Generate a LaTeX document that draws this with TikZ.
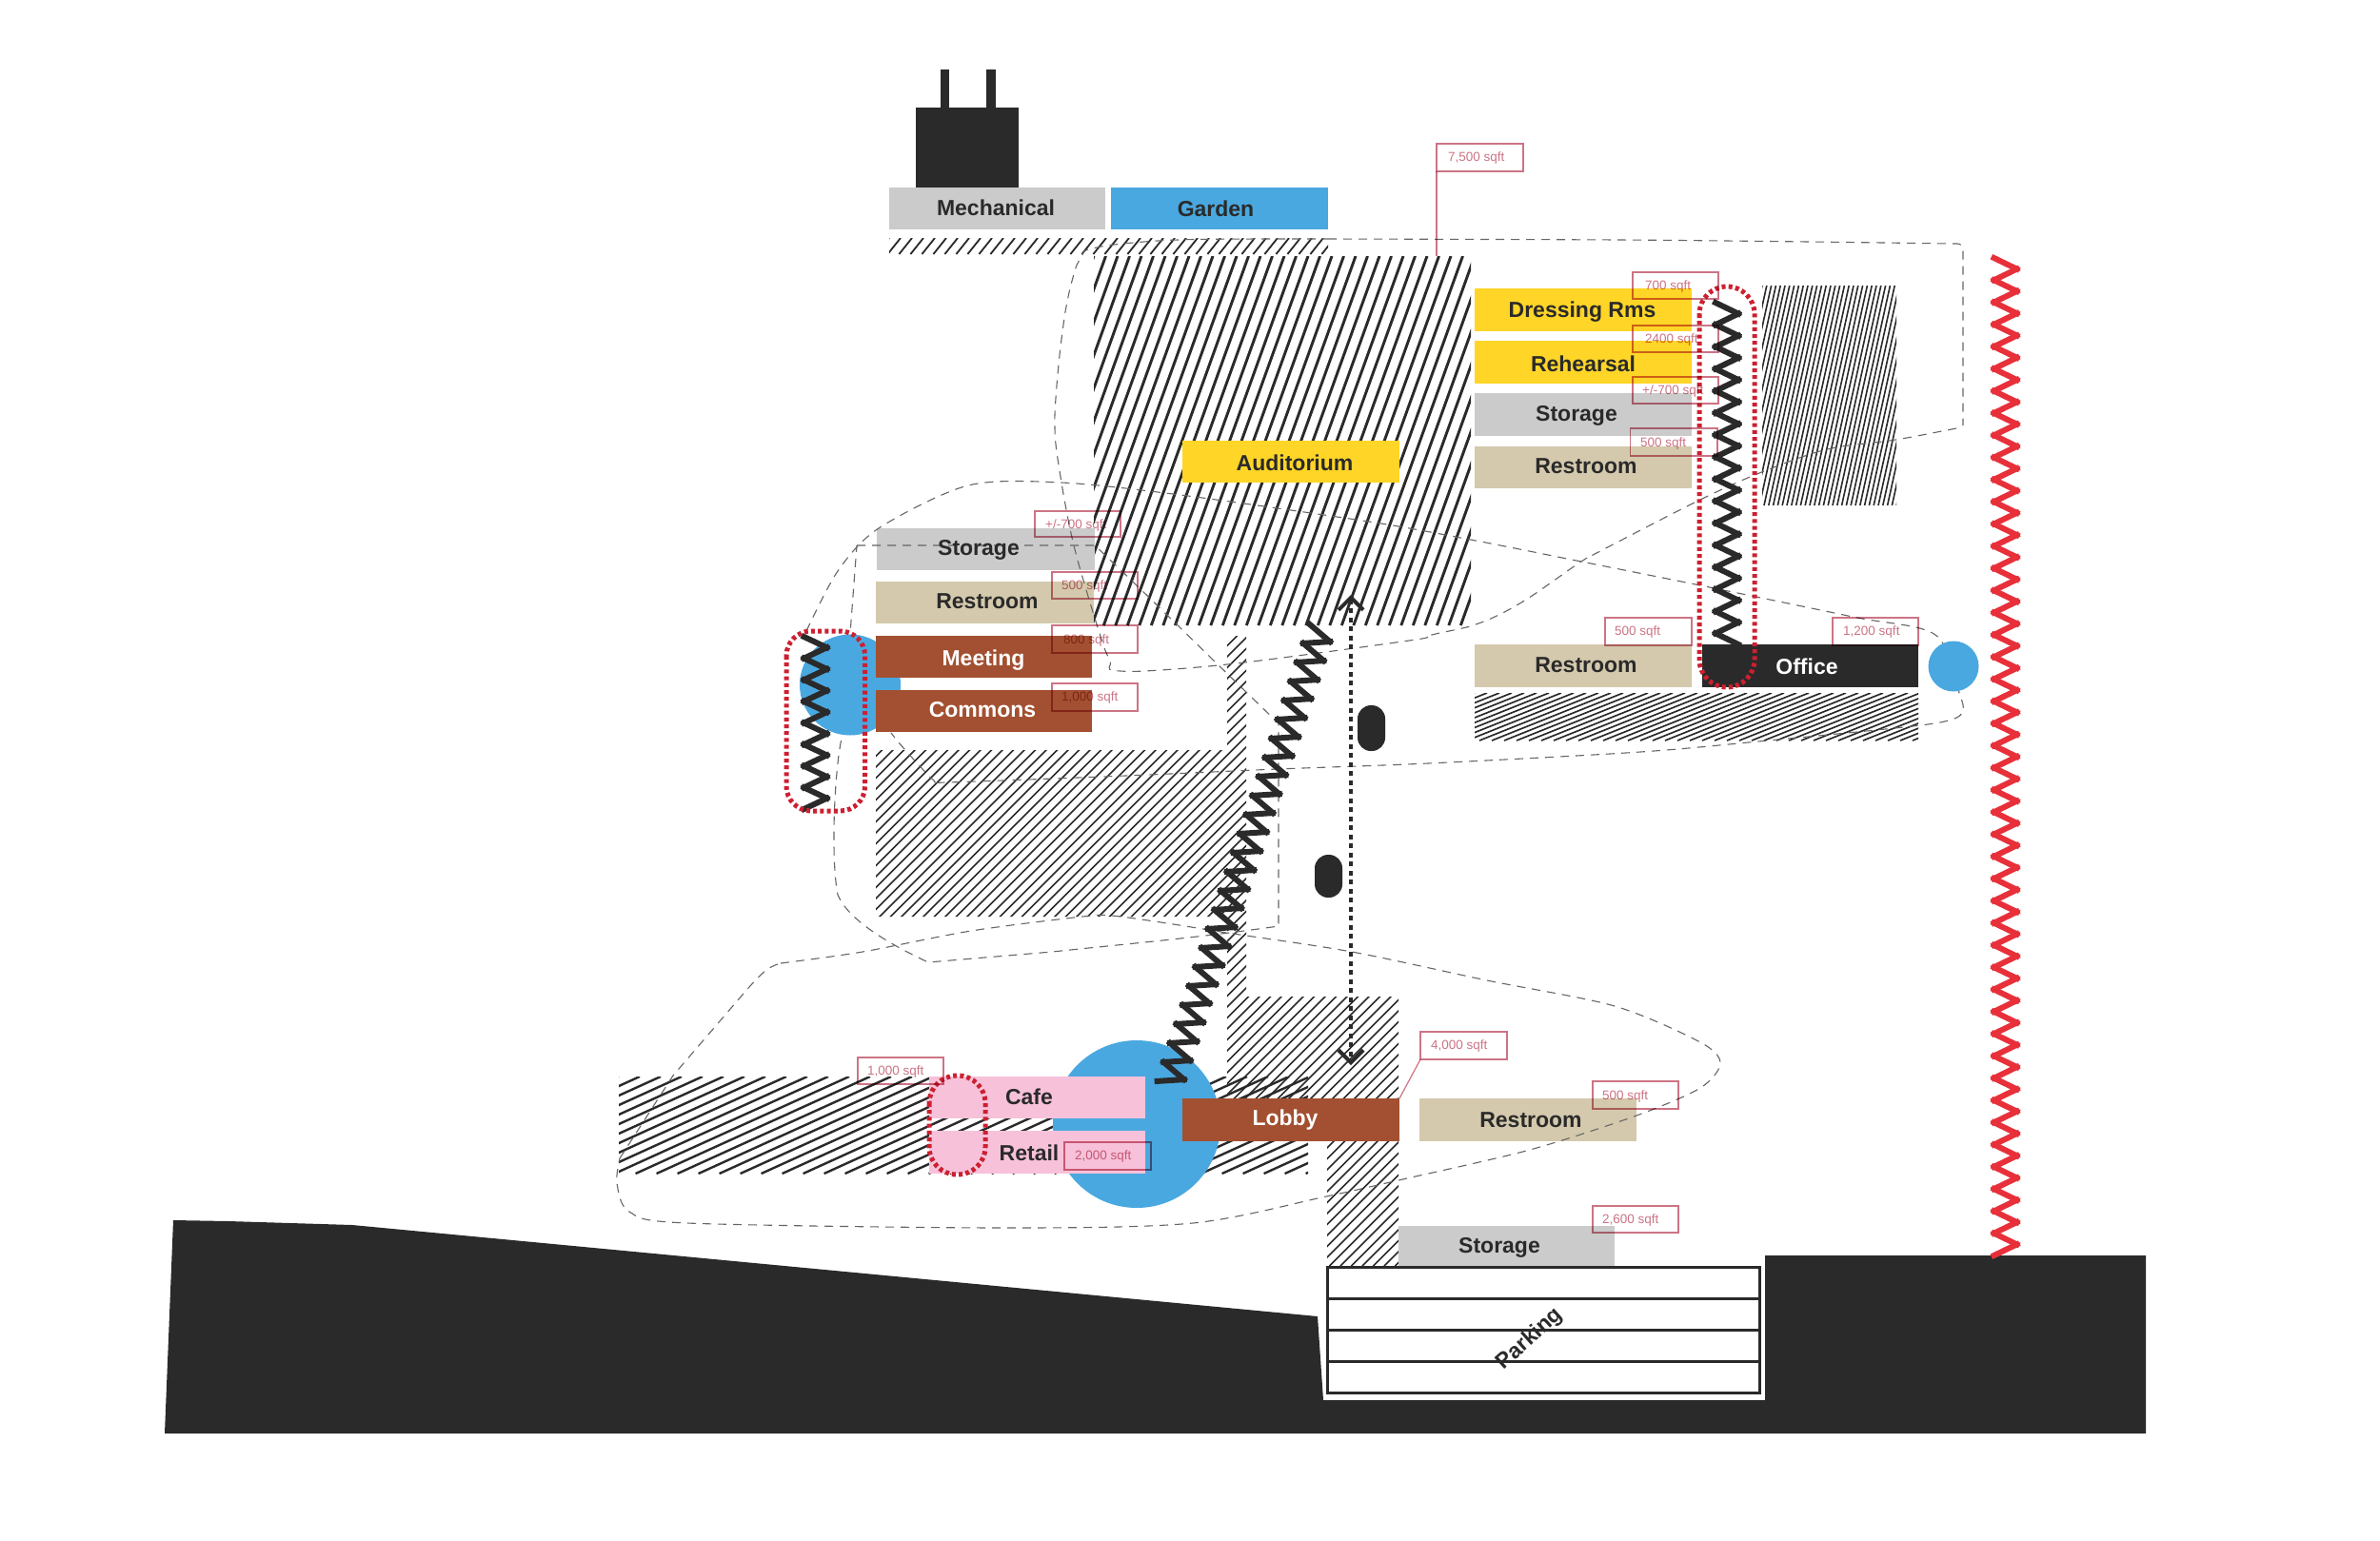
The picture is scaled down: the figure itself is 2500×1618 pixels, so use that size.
\documentclass[tikz,border=0pt]{standalone}
\usepackage{fontspec}
\setmainfont{Liberation Sans}
\usetikzlibrary{arrows.meta}
\definecolor{ink}{HTML}{2A2A2A}
\definecolor{ygold}{HTML}{FFD528}
\definecolor{lgrey}{HTML}{CBCBCB}
\definecolor{ltan}{HTML}{D4C9AD}
\definecolor{brick}{HTML}{A25031}
\definecolor{lpink}{HTML}{F7C1DA}
\definecolor{skyb}{HTML}{4AA8E0}
\definecolor{zred}{HTML}{E8303A}
\definecolor{dotred}{HTML}{CC2030}
\definecolor{sqcol}{HTML}{CC7485}
\definecolor{dashcol}{HTML}{666666}
\tikzset{
  roombox/.style={inner sep=0pt,outer sep=0pt},
  roomtext/.style={inner sep=0pt,font=\fontsize{23}{25}\selectfont\bfseries,text=ink},
  sqbox/.style={draw=sqcol,line width=1.2pt,inner sep=0pt,outer sep=0pt},
  sqtext/.style={inner sep=0pt,anchor=west,text=sqcol,font=\fontsize{13.5}{15}\selectfont},
  dashzone/.style={draw=dashcol,line width=1.1pt,dash pattern=on 9pt off 7pt},
  dotzone/.style={draw=dotred,line width=5pt,dash pattern=on 4pt off 3.2pt},
  inkzig/.style={draw=ink,line width=6pt,line cap=rect},
  redzig/.style={draw=zred,line width=6pt,line cap=rect}
}
% rectangle room node
\newcommand{\roomrect}[6]{%
  \pgfmathsetmacro\rcx{(#2+#4)/2}\pgfmathsetmacro\rcy{(#3+#5)/2}%
  \pgfmathsetmacro\rw{#4-#2}\pgfmathsetmacro\rh{#5-#3}%
  \node[roombox,fill=#6,minimum width=\rw pt,minimum height=\rh pt] (#1) at (\rcx,\rcy) {};}
% sqft box with text
\newcommand{\sqft}[8]{%
  \pgfmathsetmacro\rcx{(#2+#4)/2}\pgfmathsetmacro\rcy{(#3+#5)/2}%
  \pgfmathsetmacro\rw{#4-#2}\pgfmathsetmacro\rh{#5-#3}%
  \node[sqbox,minimum width=\rw pt,minimum height=\rh pt] (#1) at (\rcx,\rcy) {};
  \node[sqtext] (#1t) at (#6,#7) {#8};}
% hatch lines over a bounding area: x1 y1 x2 y2 spacing slope width
\newcommand{\hatchlines}[7]{%
  \pgfmathsetmacro\hh{#4-#2}\pgfmathsetmacro\hs{#6*\hh}%
  \pgfmathtruncatemacro\hn{(#3-#1+\hs)/#5+1}%
  \foreach \i in {0,...,\hn}{%
    \pgfmathsetmacro\xb{#1-\hs+\i*#5}\pgfmathsetmacro\xt{\xb+\hs}%
    \draw[ink,line width=#7pt] (\xb,#4) -- (\xt,#2);
  }}
\newcommand{\hatchbox}[7]{%
  \begin{scope}\clip (#1,#2) rectangle (#3,#4);\hatchlines{#1}{#2}{#3}{#4}{#5}{#6}{#7}\end{scope}}
% zigzag: x0 y0 x1 y1 halfperiods amp style
\newcommand{\stairzig}[7]{%
  \pgfmathsetmacro\dxx{#3-#1}\pgfmathsetmacro\dyy{#4-#2}%
  \pgfmathsetmacro\zlen{veclen(\dxx,\dyy)}%
  \pgfmathsetmacro\nxx{\dyy/\zlen}\pgfmathsetmacro\nyy{-\dxx/\zlen}%
  \foreach \k in {1,...,#5}{%
    \pgfmathsetmacro\sa{1-2*mod(\k,2)}%
    \pgfmathsetmacro\ax{#1+(\k-1)/#5*\dxx+\sa*#6*\nxx}%
    \pgfmathsetmacro\ay{#2+(\k-1)/#5*\dyy+\sa*#6*\nyy}%
    \pgfmathsetmacro\bx{#1+\k/#5*\dxx-\sa*#6*\nxx}%
    \pgfmathsetmacro\by{#2+\k/#5*\dyy-\sa*#6*\nyy}%
    \draw[#7] (\ax,\ay) -- (\bx,\by);
  }}
\begin{document}
\begin{tikzpicture}[x=1pt,y=-1pt]
\useasboundingbox[fill=white] (0,0) rectangle (2500,1618);
% ground
\fill[ink] (182,1282) -- (240,1283) -- (370,1287) -- (1384,1383) -- (1390,1471) -- (1854,1471) -- (1854,1319) -- (2254,1319) -- (2254,1506) -- (173,1506) -- cycle;
% plug
\fill[ink] (962,113) rectangle (1070,198);
\fill[ink] (988,73) rectangle (997,114);
\fill[ink] (1036,73) rectangle (1046,114);
% hatches
\hatchbox{934}{250}{1395}{267}{12}{0.8}{1.8}
\hatchbox{1149}{269}{1545}{657}{12.5}{0.36}{2.9}
\hatchbox{1851}{300}{1992}{531}{4.8}{0.22}{1.6}
\hatchbox{1549}{728}{2015}{778}{13}{2.5}{1.7}
\hatchbox{650}{1131}{1374}{1233}{22}{2.2}{2.4}
\begin{scope}
  \clip (920,788) rectangle (1309,963)
        (1289,668) rectangle (1309,1047)
        (1289,1047) rectangle (1469,1154)
        (1394,1199) rectangle (1469,1330);
  \hatchlines{920}{668}{1469}{1330}{11.5}{1}{1.5}
\end{scope}
% light rooms below the dashed zones
\roomrect{rmech}{934}{197}{1161}{241}{lgrey}
\roomrect{rgard}{1167}{197}{1395}{241}{skyb}
\roomrect{raudi}{1242}{463}{1470}{507}{ygold}
\roomrect{rdress}{1549}{303}{1777}{348}{ygold}
\roomrect{rrehe}{1549}{358}{1777}{403}{ygold}
\roomrect{rstorr}{1549}{413}{1777}{458}{lgrey}
\roomrect{rrestr}{1549}{469}{1777}{513}{ltan}
\roomrect{rstorl}{921}{555}{1150}{599}{lgrey}
\roomrect{rrestl}{920}{611}{1149}{655}{ltan}
\roomrect{rrestm}{1549}{677}{1777}{722}{ltan}
\roomrect{rrestb}{1491}{1154}{1719}{1199}{ltan}
\roomrect{rstorb}{1469}{1288}{1696}{1330}{lgrey}
% dashed zones
\draw[dashzone] plot[smooth,tension=0.5] coordinates {(1395,251) (1700,252) (1900,254) (2050,256)}
  [rounded corners=6pt] -- (2062,256) -- (2062,447)
  plot[smooth,tension=0.5] coordinates {(2055,450) (1991,462) (1920,472) (1853,495) (1786,525) (1679,580) (1661,590) (1598,633) (1553,655) (1504,667) (1480,673) (1289,698) (1177,705) (1164,690) (1148,643) (1128,573) (1115,507) (1108,450) (1112,383) (1121,317) (1134,273) (1152,260) (1237,252) (1395,251)};
\draw[dashzone] plot[smooth,tension=0.5] coordinates {(847,663) (880,600) (923,555) (1017,510) (1115,507) (1240,520) (1438,548) (1545,567) (1661,590) (1786,615) (1946,648) (2033,667) (2058,728) (2062,747) (2050,756) (2009,763) (1857,778) (1723,790) (1500,802) (1342,808) (1182,815) (994,822) (981,820) (950,787) (936,770)};
\draw[dashzone] (900,573) -- (1150,573) .. controls (1200,620) and (1260,680) .. (1343,760) -- (1343,973)
  .. controls (1260,985) and (1180,992) .. (1105,1000) -- (975,1011) .. controls (930,990) and (890,965) .. (880,940)
  .. controls (872,900) and (877,800) .. (885,772) -- (900,573);
\draw[dashzone] (651,1217) -- (707,1130) -- (780,1045) .. controls (800,1022) and (806,1016) .. (820,1012)
  plot[smooth,tension=0.5] coordinates {(820,1012) (906,1000) (1020,978) (1137,963) (1168,962) (1226,970) (1289,980) (1420,1000) (1562,1030) (1696,1057) (1786,1095) (1807,1117) (1786,1143) (1719,1172) (1607,1208) (1469,1240) (1393,1257) (1253,1285) (1054,1290) (722,1285) (661,1273) (648,1243) (651,1217)};
% circles
\fill[skyb] (893,719.5) circle[radius=53];
\fill[skyb] (1194,1181) circle[radius=88];
\fill[skyb] (2052,700) circle[radius=26.5];
% parking
\draw[ink,line width=3pt,fill=white] (1394,1331) rectangle (1848,1463);
\coordinate (pa1) at (1394,1364);\coordinate (pb1) at (1848,1364);
\coordinate (pa2) at (1394,1397);\coordinate (pb2) at (1848,1397);
\coordinate (pa3) at (1394,1430);\coordinate (pb3) at (1848,1430);
\draw[ink,line width=3pt] (pa1) -- (pb1) (pa2) -- (pb2) (pa3) -- (pb3);
% rooms over the zones
\roomrect{rmeet}{920}{668}{1147}{712}{brick}
\roomrect{rcomm}{920}{725}{1147}{769}{brick}
\roomrect{rcafe}{976}{1131}{1203}{1175}{lpink}
\roomrect{rreta}{976}{1188}{1203}{1233}{lpink}
\roomrect{rlobb}{1242}{1154}{1470}{1199}{brick}
\roomrect{roffi}{1788}{677}{2015}{722}{ink}
% pills
\fill[ink,rounded corners=14pt] (1426,741) rectangle (1455,789);
\fill[ink,rounded corners=14pt] (1381,898) rectangle (1410,943);
% zigzags
\stairzig{1814}{318}{1814}{677}{31}{12}{inkzig}
\stairzig{856.5}{669}{856.5}{850}{16}{12}{inkzig}
\stairzig{2106.5}{271}{2106.5}{1319}{90}{12}{redzig}
\stairzig{1388}{660}{1228}{1140}{48}{13}{inkzig}
% dotted vertical arrow
\coordinate (arrtop) at (1419,625);
\coordinate (arrbot) at (1419,1119);
\draw[ink,line width=4pt,dash pattern=on 5pt off 4.5pt,{Straight Barb[length=13pt,width=26pt,line width=4pt]}-{Straight Barb[length=13pt,width=26pt,line width=4pt]}] (arrtop) -- (arrbot);
% dotted zones
\draw[dotzone,rounded corners=29pt] (1785,301) rectangle (1843,722);
\draw[dotzone,rounded corners=26pt] (826,663) rectangle (908.6,852);
\draw[dotzone,rounded corners=29pt] (976,1130) rectangle (1035,1234);
% room texts
\node[roomtext] (tmech) at (1046,218) {Mechanical};
\node[roomtext] (tgard) at (1277,219.5) {Garden};
\node[roomtext] (taudi) at (1360,486) {Auditorium};
\node[roomtext] (tdress) at (1662,328) {Dressing Rms};
\node[roomtext] (trehe) at (1663,382) {Rehearsal};
\node[roomtext] (tstorr) at (1656,437) {Storage};
\node[roomtext] (trestr) at (1666,490) {Restroom};
\node[roomtext] (trestm) at (1666,699) {Restroom};
\node[roomtext,text=white] (toffi) at (1898,700) {Office};
\node[roomtext] (tstorl) at (1028,578) {Storage};
\node[roomtext] (trestl) at (1037,632) {Restroom};
\node[roomtext,text=white] (tmeet) at (1033,693.5) {Meeting};
\node[roomtext,text=white] (tcomm) at (1032,746) {Commons};
\node[roomtext] (tcafe) at (1081,1152) {Cafe};
\node[roomtext] (treta) at (1081,1211) {Retail};
\node[roomtext,text=white] (tlobb) at (1350,1176.5) {Lobby};
\node[roomtext] (trestb) at (1608,1177) {Restroom};
\node[roomtext] (tstorb) at (1575,1311) {Storage};
\node[roomtext,rotate=42] (tpark) at (1607,1407) {Parking};
% sqft labels
\begin{scope}[blend mode=multiply]
\sqft{q7500}{1509}{151}{1600}{180}{1521}{166}{7,500 sqft}
\sqft{q700}{1715}{286}{1805}{314}{1728}{301}{700 sqft}
\sqft{q2400}{1715}{342}{1805}{370}{1728}{357}{2400 sqft}
\sqft{qpm7r}{1715}{396}{1805}{424}{1725}{411}{+/-700 sqft}
\sqft{q500a}{1712.5}{450}{1804}{479}{1723}{466}{500 sqft}
\sqft{qpm7l}{1087}{537}{1177}{564}{1098}{552}{+/-700 sqft}
\sqft{q500b}{1105}{601}{1195}{629}{1115}{616}{500 sqft}
\sqft{q800}{1105}{657}{1195}{686}{1117}{673}{800 sqft}
\sqft{q1000b}{1105}{718}{1195}{747}{1115}{733}{1,000 sqft}
\sqft{q500c}{1686}{649}{1777}{678}{1696}{664}{500 sqft}
\sqft{q1200}{1925}{649}{2015}{678}{1936}{664}{1,200 sqft}
\sqft{q1000}{901}{1111}{991}{1139}{911}{1126}{1,000 sqft}
\sqft{q2000}{1118}{1200}{1209}{1229}{1129}{1215}{2,000 sqft}
\sqft{q4000}{1492}{1084}{1583}{1113}{1503}{1099}{4,000 sqft}
\sqft{q500d}{1673}{1136}{1763}{1165}{1683}{1152}{500 sqft}
\sqft{q2600}{1673}{1267}{1763}{1295}{1683}{1282}{2,600 sqft}
\coordinate (audtop) at (1509,269);
\draw[sqcol,line width=1.2pt] (q7500.south west) -- (audtop);
\draw[sqcol,line width=1.2pt] (q4000.south west) -- (rlobb.north east);
\end{scope}
\end{tikzpicture}
\end{document}
